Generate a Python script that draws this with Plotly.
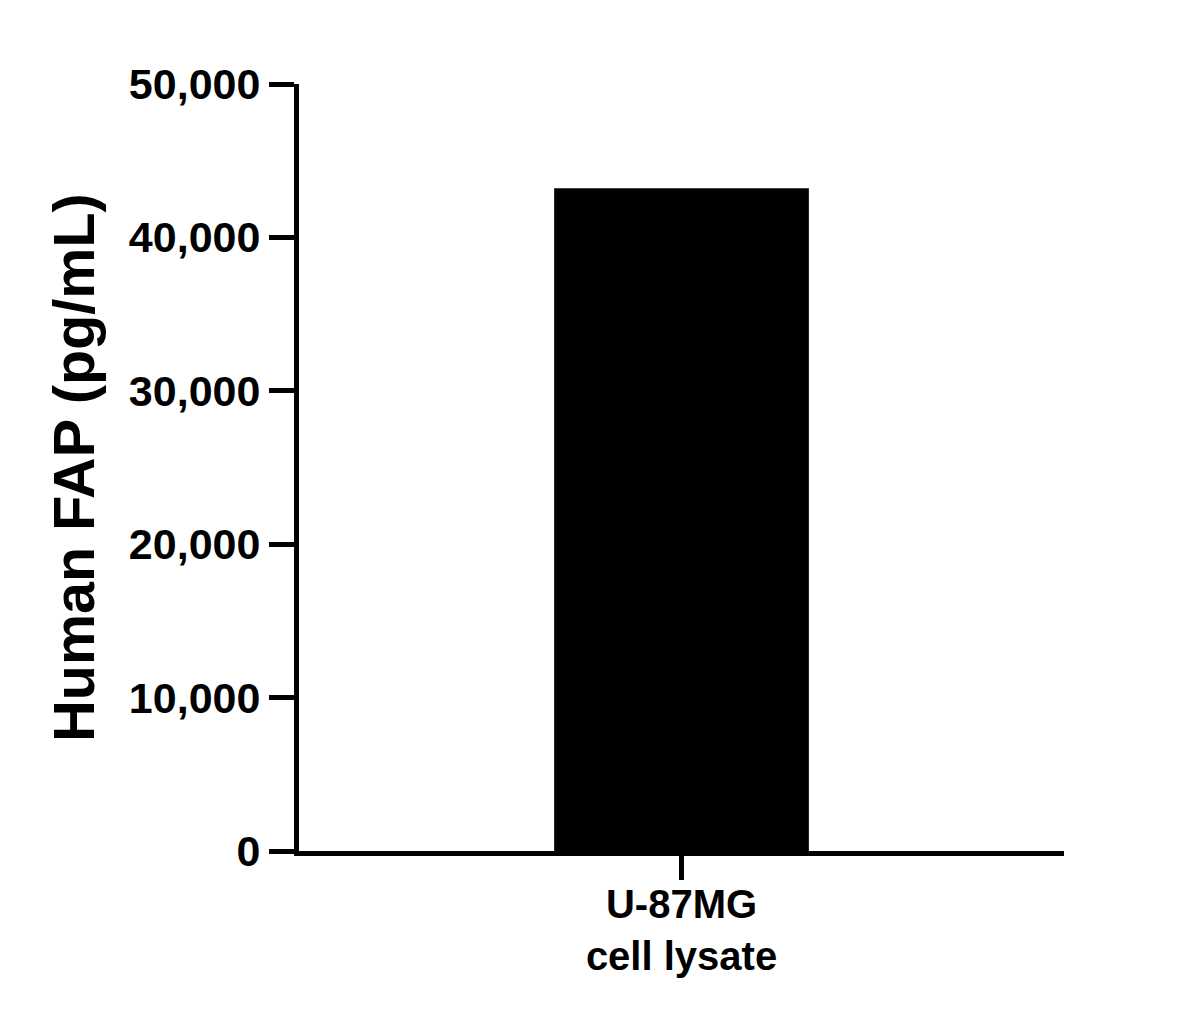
import plotly.graph_objects as go

categories = ["U-87MG<br>cell lysate"]
values = [43200]
y_tickvals = [0, 10000, 20000, 30000, 40000, 50000]
y_title = "Human FAP (pg/mL)"

FONT = "Liberation Sans, Arial, sans-serif"

fig = go.Figure()
fig.add_trace(go.Bar(
    x=categories, y=values, width=0.333,
    marker=dict(color="black", line=dict(width=0)),
))

fig.update_layout(
    width=1201, height=1013,
    margin=dict(l=291, r=145, t=76, b=170),
    plot_bgcolor="white", paper_bgcolor="white",
    showlegend=False,
    font=dict(family=FONT, color="black"),
)
fig.update_xaxes(
    range=[-0.5, 0.5],
    showline=True, linewidth=5, linecolor="black",
    ticks="outside", ticklen=24, tickwidth=5, tickcolor="black",
    ticklabelstandoff=-10,
    tickfont=dict(family=FONT, size=40, weight=700, color="black"),
    showgrid=False, zeroline=False,
)
fig.update_yaxes(
    range=[0, 50000],
    tickvals=y_tickvals, tickformat=",",
    showline=True, linewidth=5, linecolor="black",
    ticks="outside", ticklen=25, tickwidth=5, tickcolor="black",
    tickfont=dict(family=FONT, size=43, weight=700, color="black"),
    showgrid=False, zeroline=False,
    title=dict(text=y_title, font=dict(family=FONT, size=57.5, weight=700, color="black"), standoff=17),
)

fig.write_html("out.html")
